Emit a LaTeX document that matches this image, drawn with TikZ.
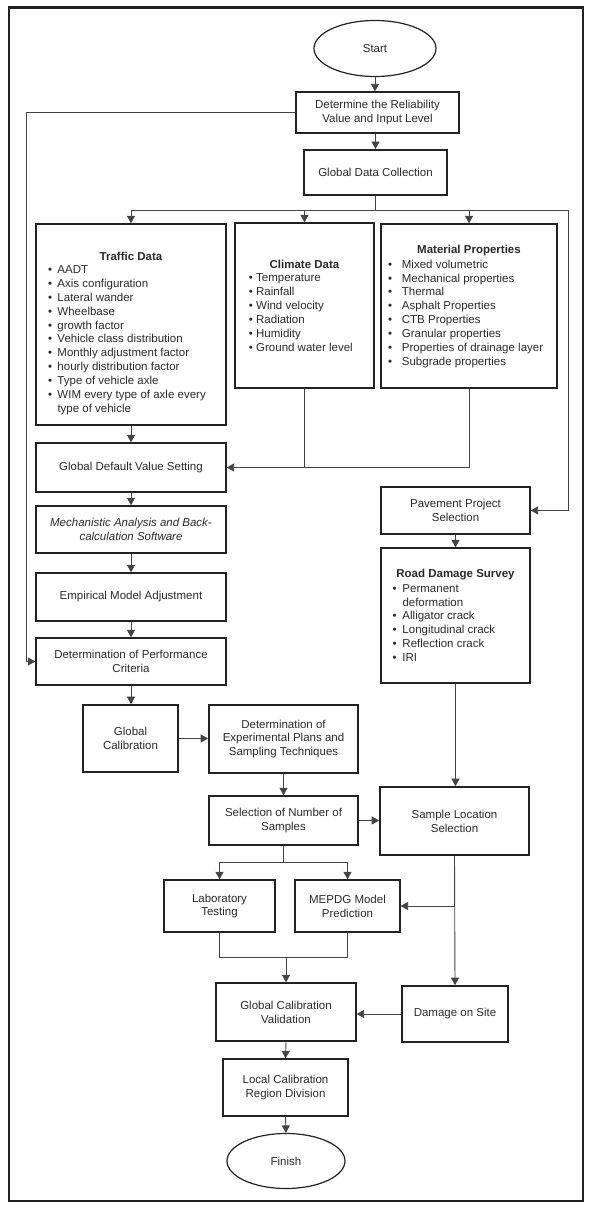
\documentclass[tikz,border=0pt]{standalone}
\usepackage{fontspec}
\setmainfont{Liberation Sans}
\usetikzlibrary{arrows.meta,shapes.geometric}
\definecolor{ink}{HTML}{222222}
\definecolor{wire}{HTML}{444444}
\definecolor{txt}{HTML}{2a2a2a}
\newlength\bw
\newcommand\bt{\strut\makebox[\bw][l]{\textbullet}}
\newcommand\ct{\strut\hspace*{\bw}}
\begin{document}
\begin{tikzpicture}[x=1pt,y=-1pt,
  every node/.style={font=\fontsize{11.5}{13.85}\selectfont, text=txt},
  box/.style={draw=ink, line width=1.3pt, rectangle, inner sep=2pt, align=center},
  heavy/.style={box, line width=2pt},
  oval/.style={draw=ink, line width=1.2pt, ellipse, inner sep=0pt},
  wirel/.style={draw=wire, line width=0.9pt},
  arr/.style={wirel, -{Triangle[length=7.5pt,width=8pt]}},
  ttl/.style={font=\fontsize{11.5}{13.85}\selectfont\bfseries, inner sep=0pt},
  items/.style={align=left, inner sep=0pt, anchor=west},
]
\useasboundingbox (0,0) rectangle (596,1212);
\draw[draw=ink, line width=2.4pt] (9,7.5) rectangle (583,1201);

% nodes
\node[oval, minimum width=122, minimum height=56] (start) at (375,48.5) {Start};
\node[box, minimum width=163, minimum height=41] (det) at (377.5,112.5) {Determine the Reliability\\Value and Input Level};
\node[heavy, minimum width=143, minimum height=45] (gdc) at (375.5,172.5) {Global Data Collection};

\node[box, minimum width=190, minimum height=201] (traffic) at (131,324.5) {};
\node[ttl] (traffict) at (131,256.7) {Traffic Data};
\global\bw=9.3pt
\node[items] (trafficl) at (48,340.2) {\bt AADT\\\bt Axis configuration\\\bt Lateral wander\\\bt Wheelbase\\\bt growth factor\\\bt Vehicle class distribution\\\bt Monthly adjustment factor\\\bt hourly distribution factor\\\bt Type of vehicle axle\\\bt WIM every type of axle every\\\ct type of vehicle};

\node[box, minimum width=139, minimum height=165] (climate) at (304.5,305.5) {};
\node[ttl] (climatet) at (304.5,264) {Climate Data};
\global\bw=7.3pt
\node[items] (climatel) at (248.7,313.8) {\bt Temperature\\\bt Rainfall\\\bt Wind velocity\\\bt Radiation\\\bt Humidity\\\bt Ground water level};

\node[box, minimum width=176, minimum height=164] (material) at (469,306) {};
\node[ttl] (materialt) at (469,250.7) {Material Properties};
\global\bw=13.7pt
\node[items] (materiall) at (388,313.9) {\bt Mixed volumetric\\\bt Mechanical properties\\\bt Thermal\\\bt Asphalt Properties\\\bt CTB Properties\\\bt Granular properties\\\bt Properties of drainage layer\\\bt Subgrade properties};

\node[box, minimum width=190, minimum height=49] (gdvs) at (131,467.5) {Global Default Value Setting};
\node[box, minimum width=190, minimum height=47] (mech) at (131,529.5) {\itshape Mechanistic Analysis and Back-\\\itshape calculation Software};
\node[box, minimum width=190, minimum height=48] (emp) at (131,597) {Empirical Model Adjustment};
\node[box, minimum width=190, minimum height=47] (dpc) at (131,661.5) {Determination of Performance\\Criteria};
\node[box, line width=1.6pt, minimum width=95, minimum height=67] (gcal) at (130.5,738.5) {Global\\Calibration};
\node[box, line width=1.6pt, minimum width=149, minimum height=68] (dexp) at (283.5,739) {Determination of\\Experimental Plans and\\Sampling Techniques};
\node[box, minimum width=149, minimum height=49] (sel) at (283.5,820.5) {Selection of Number of\\Samples};
\node[box, line width=1.6pt, minimum width=149, minimum height=68] (sloc) at (454.5,821) {Sample Location\\Selection};
\node[box, minimum width=111, minimum height=52] (lab) at (219.5,906) {Laboratory\\Testing};
\node[box, minimum width=105, minimum height=52] (mepdg) at (347.5,906) {MEPDG Model\\Prediction};
\node[box, minimum width=140, minimum height=58] (gcv) at (286,1012) {Global Calibration\\Validation};
\node[box, line width=1.6pt, minimum width=106, minimum height=56] (dmg) at (455,1014) {Damage on Site};
\node[box, minimum width=125, minimum height=57] (local) at (285.5,1087.5) {Local Calibration\\Region Division};
\node[oval, minimum width=118, minimum height=55] (finish) at (286,1161) {Finish};

\node[box, minimum width=149, minimum height=47] (pav) at (455.5,510.5) {Pavement Project\\Selection};
\node[box, minimum width=149, minimum height=135] (rds) at (455.5,615.5) {};
\node[ttl] (rdst) at (455.5,575) {Road Damage Survey};
\global\bw=10pt
\node[items] (rdsl) at (392.3,624) {\bt Permanent\\\ct deformation\\\bt Alligator crack\\\bt Longitudinal crack\\\bt Reflection crack\\\bt IRI};

% helper coordinates
\coordinate (bar) at (0,210);
\coordinate (rt) at (568.3,210);
\coordinate (lft) at (26.7,0);
\coordinate (split) at (283.5,862.7);
\coordinate (mg) at (286,957.7);

% connectors
\draw[arr] (start.south) -- (start.south |- det.north);
\draw[arr] (gdc.north |- det.south) -- (gdc.north);
\draw[wirel] (gdc.south) -- (gdc.south |- bar);
\draw[wirel] (traffic.north |- bar) -- (rt);
\draw[arr] (traffic.north |- bar) -- (traffic.north);
\draw[arr] (climate.north |- bar) -- (climate.north);
\draw[arr] (material.north |- bar) -- (material.north);
\draw[arr] (rt) |- (pav.east);
\draw[arr] (det.west) -- (det.west -| lft) -- (lft |- dpc.west) -- (dpc.west);

\draw[arr] (traffic.south) -- (gdvs.north);
\draw[wirel] (climate.south) -- (climate.south |- gdvs.east);
\draw[arr] (material.south) |- (gdvs.east);
\draw[arr] (gdvs.south) -- (mech.north);
\draw[arr] (mech.south) -- (emp.north);
\draw[arr] (emp.south) -- (dpc.north);
\draw[arr] (dpc.south) -- (dpc.south |- gcal.north);
\draw[arr] (gcal.east) -- (gcal.east -| dexp.west);
\draw[arr] (dexp.south) -- (sel.north);
\draw[arr] (sel.east) -- (sel.east -| sloc.west);
\draw[wirel] (sel.south) -- (split);
\draw[arr] (split) -| (lab.north);
\draw[arr] (split) -| (mepdg.north);

\draw[arr] (pav.south) -- (rds.north);
\draw[arr] (rds.south) -- (rds.south |- sloc.north);
\draw[arr] (sloc.south) -- (dmg.north);
\draw[arr] (sloc.south |- mepdg.east) -- (mepdg.east);
\draw[wirel] (lab.south) -- (lab.south |- mg) -- (mepdg.south |- mg) -- (mepdg.south);
\draw[arr] (mg) -- (gcv.north);
\draw[arr] (dmg.west) -- (dmg.west -| gcv.east);
\draw[arr] (gcv.south) -- (local.north);
\draw[arr] (local.south) -- (finish.north);
\end{tikzpicture}
\end{document}
